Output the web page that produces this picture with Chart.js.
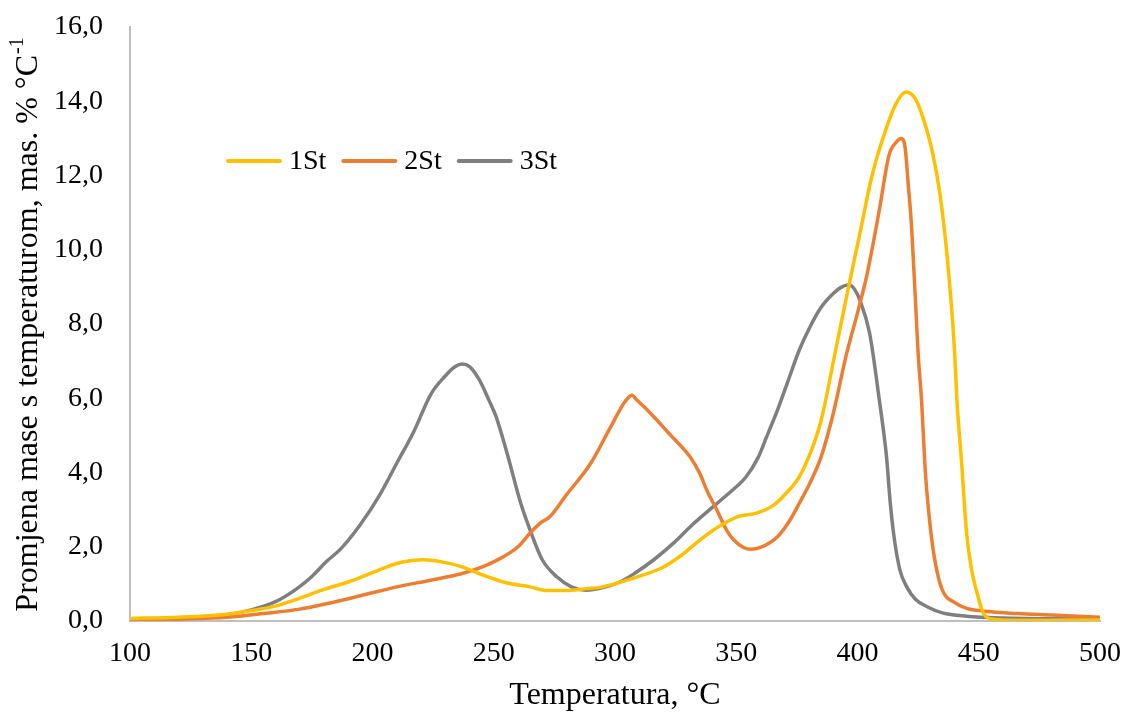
<!DOCTYPE html>
<html>
<head>
<meta charset="utf-8">
<title>Promjena mase s temperaturom</title>
<script src="https://cdn.jsdelivr.net/npm/chart.js@4/dist/chart.umd.min.js"></script>
<style>
  body { margin: 0; background: #fff; }
  #wrap { width: 1126px; height: 715px; }
</style>
</head>
<body>
<div id="wrap"><canvas id="dtgChart" width="1126" height="715"></canvas></div>
<script>
// series names + colours (Excel default palette)
const seriesNames = ['1St', '2St', '3St'];
const seriesColors = ['#FFC000', '#ED7D31', '#7F7F7F'];

// 1St
const temps1 = [100, 120, 140, 150, 160, 168, 180, 190, 200, 210, 221, 228, 237, 245, 255, 265, 272, 280, 287, 295,
  305, 312, 319, 327, 335, 343, 351, 358, 365, 370, 376, 381, 385, 391, 396, 401, 406, 412, 416, 420,
  424, 428, 431, 434, 437, 440, 441, 443, 445, 447, 449, 452, 456, 465, 480, 500];
const values1 = [0.07, 0.1, 0.18, 0.28, 0.4, 0.57, 0.85, 1.05, 1.3, 1.55, 1.65, 1.6, 1.46, 1.25, 1.03, 0.92, 0.82, 0.82, 0.86, 0.92,
  1.1, 1.25, 1.42, 1.75, 2.18, 2.55, 2.82, 2.9, 3.1, 3.4, 3.88, 4.6, 5.4, 7.3, 8.9, 10.44, 12.0, 13.3, 13.95, 14.25,
  14.05, 13.35, 12.6, 11.5, 9.8, 7.3, 5.95, 4.2, 2.36, 1.4, 0.83, 0.2, 0.05, 0.02, 0.02, 0.03];

// 2St
const temps2 = [100, 120, 140, 155, 170, 182, 195, 210, 224, 237, 245, 252, 260, 265, 269, 273, 280, 290, 298, 304,
  307, 309, 312, 316, 323, 331, 335, 338, 342, 346, 349, 353, 356, 360, 367, 372, 376, 381, 385, 390,
  395.5, 400, 404, 409, 413, 416, 418, 419.6, 421, 422.3, 424, 425, 426.4, 428, 430, 432, 435, 440, 445, 455,
  466, 480, 500];
const values2 = [0.02, 0.05, 0.1, 0.2, 0.32, 0.48, 0.68, 0.92, 1.1, 1.28, 1.45, 1.66, 2.0, 2.37, 2.63, 2.8, 3.4, 4.25, 5.2, 5.9,
  6.08, 5.95, 5.77, 5.5, 5.0, 4.42, 3.97, 3.5, 2.99, 2.45, 2.18, 1.98, 1.93, 1.98, 2.27, 2.7, 3.17, 3.8, 4.42, 5.59,
  7.2, 8.3, 9.36, 11.07, 12.55, 12.9, 13.0, 12.77, 11.7, 10.62, 8.5, 7.21, 5.95, 4.0, 2.54, 1.6, 0.83, 0.5, 0.34, 0.25,
  0.2, 0.16, 0.1];

// 3St
const temps3 = [100, 120, 140, 150, 160, 169, 175, 181, 187, 195, 203, 210, 217, 224, 230, 234, 237, 240, 244, 248,
  251, 256, 261, 265, 270, 276, 282, 288, 295, 302, 308, 316, 324, 332, 340.5, 348, 354, 359, 362.5, 367,
  371, 376, 380.4, 385, 390, 393, 396, 398, 401, 405, 409, 412, 413.4, 415, 417.5, 420.3, 424, 428.5, 435, 445,
  460, 480, 500];
const values3 = [0.03, 0.07, 0.17, 0.3, 0.52, 0.88, 1.2, 1.6, 1.95, 2.6, 3.4, 4.25, 5.1, 6.1, 6.6, 6.85, 6.92, 6.85, 6.5, 5.95,
  5.5, 4.4, 3.2, 2.45, 1.65, 1.19, 0.92, 0.83, 0.9, 1.05, 1.28, 1.65, 2.09, 2.6, 3.08, 3.5, 3.88, 4.4, 4.96, 5.68,
  6.4, 7.3, 7.92, 8.45, 8.82, 8.98, 9.05, 9.0, 8.64, 7.75, 5.95, 4.4, 3.26, 2.3, 1.37, 0.92, 0.58, 0.39, 0.22, 0.13,
  0.08, 0.06, 0.05];

const allTemps = [temps1, temps2, temps3];
const allValues = [values1, values2, values3];

const serif = '"Liberation Serif", "Times New Roman", serif';

// y axis title with the superscript -1
const yTitlePlugin = {
  id: 'yTitle',
  afterDraw(chart) {
    const ctx = chart.ctx;
    const main = 'Promjena mase s temperaturom, mas. % °C';
    const sup = '-1';
    ctx.save();
    ctx.fillStyle = '#000';
    ctx.textBaseline = 'middle';
    ctx.textAlign = 'left';
    ctx.font = '32px ' + serif;
    const w1 = ctx.measureText(main).width;
    ctx.font = '20px ' + serif;
    const w2 = ctx.measureText(sup).width;
    ctx.translate(29, 325);
    ctx.rotate(-Math.PI / 2);
    const x0 = -(w1 + w2) / 2;
    ctx.font = '32px ' + serif;
    ctx.fillText(main, x0, 0);
    ctx.font = '20px ' + serif;
    ctx.fillText(sup, x0 + w1 + 1, -11);
    ctx.restore();
  }
};

// legend inside the plot
const innerLegend = {
  id: 'innerLegend',
  afterDraw(chart) {
    const ctx = chart.ctx;
    let x = 228;
    const y = 161;
    ctx.save();
    ctx.font = '28px ' + serif;
    ctx.textBaseline = 'middle';
    ctx.textAlign = 'left';
    chart.data.datasets.forEach(ds => {
      ctx.strokeStyle = ds.borderColor;
      ctx.lineWidth = 4;
      ctx.lineCap = 'round';
      ctx.beginPath();
      ctx.moveTo(x, y);
      ctx.lineTo(x + 52, y);
      ctx.stroke();
      x += 61;
      ctx.fillStyle = '#000';
      ctx.fillText(ds.label, x, y + 1);
      x += ctx.measureText(ds.label).width + 17;
    });
    ctx.restore();
  }
};

const datasets = seriesNames.map((name, i) => ({
  label: name,
  data: allTemps[i].map((t, j) => ({ x: t, y: allValues[i][j] })),
  borderColor: seriesColors[i],
  backgroundColor: seriesColors[i],
  borderWidth: 3.5,
  pointRadius: 0,
  cubicInterpolationMode: 'monotone',
  fill: false
}));

new Chart(document.getElementById('dtgChart'), {
  type: 'line',
  data: { datasets },
  options: {
    responsive: false,
    devicePixelRatio: 1,
    animation: false,
    layout: { padding: { top: 27, right: 26, left: 0, bottom: 0 } },
    plugins: {
      legend: { display: false },
      tooltip: { enabled: false }
    },
    scales: {
      x: {
        type: 'linear',
        min: 100,
        max: 500,
        afterFit(scale) {
          scale.height = 94;
          scale.paddingLeft = 0;
          scale.paddingRight = 0;
        },
        grid: { display: false, drawTicks: false },
        border: { display: true, color: '#bfbfbf', width: 2 },
        ticks: {
          stepSize: 50,
          padding: 16,
          color: '#000',
          font: { family: serif, size: 28 }
        },
        title: {
          display: true,
          text: 'Temperatura, °C',
          color: '#000',
          font: { family: serif, size: 32 },
          padding: { top: 0, bottom: 0 }
        }
      },
      y: {
        min: 0,
        max: 16,
        afterFit(scale) {
          scale.width = 130;
          scale.paddingTop = 0;
          scale.paddingBottom = 0;
        },
        grid: { display: false, drawTicks: false },
        border: { display: true, color: '#bfbfbf', width: 2 },
        ticks: {
          stepSize: 2,
          padding: 27,
          color: '#000',
          font: { family: serif, size: 28 },
          callback: v => v.toFixed(1).replace('.', ',')
        }
      }
    }
  },
  plugins: [yTitlePlugin, innerLegend]
});
</script>
</body>
</html>
